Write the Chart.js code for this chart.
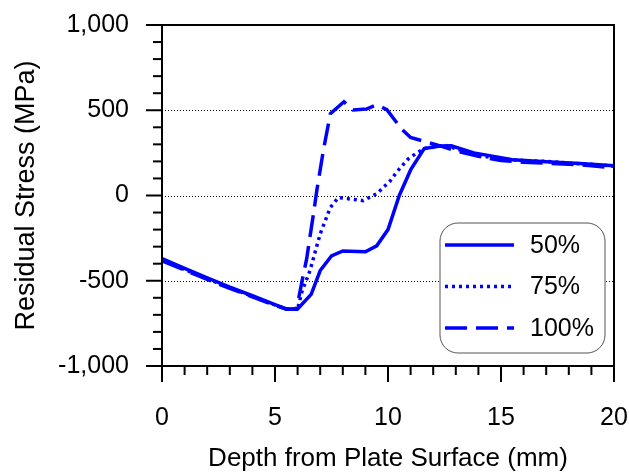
<!DOCTYPE html>
<html>
<head>
<meta charset="utf-8">
<script src="https://cdn.jsdelivr.net/npm/chart.js@4"></script>
<style>
  html, body { margin: 0; padding: 0; background: #fff; }
  #wrap { width: 629px; height: 473px; }
</style>
</head>
<body>
<div id="wrap"><canvas id="stressChart" width="629" height="473"></canvas></div>
<script>
// depth (mm) / residual stress (MPa)
const depth50 = [0, 1, 2, 3, 4, 5, 5.5, 6.0, 6.6, 7.0, 7.5, 8.0, 9.0, 9.5, 10.0, 10.5, 11.0, 11.6, 12.3, 12.8, 13.8, 15.5, 17, 18.5, 20];
const stress50 = [-370, -428, -483, -538, -588, -640, -665, -665, -580, -440, -355, -325, -330, -295, -200, 0, 150, 275, 290, 292, 250, 210, 198, 188, 175];

const depth75 = [0, 1, 2, 3, 4, 5, 5.5, 6.0, 6.2, 6.55, 7.0, 7.45, 7.8, 8.3, 8.9, 9.5, 10.1, 10.4, 10.9, 11.3, 11.6, 12.5, 13, 14, 15, 16, 17, 18, 19, 20];
const stress75 = [-378, -434, -488, -542, -592, -642, -665, -665, -560, -440, -225, -70, -12, -20, -30, 10, 86, 140, 215, 252, 275, 295, 275, 235, 215, 205, 200, 190, 183, 172];

const depth100 = [0, 1, 2, 3, 4, 5, 5.5, 5.95, 6.2, 6.4, 6.7, 6.85, 7.15, 7.45, 8.05, 8.45, 9.05, 9.5, 9.95, 10.6, 11.0, 12.2, 13, 14, 15, 16, 17, 18, 19, 20];
const stress100 = [-383, -438, -492, -545, -594, -644, -667, -667, -500, -372, -110, 30, 272, 480, 550, 502, 507, 532, 503, 390, 340, 295, 262, 230, 205, 195, 190, 183, 175, 162];

const seriesLabels = ["50%", "75%", "100%"];
const gridStress = [500, 0, -500];

const font = "'Liberation Sans', Arial, sans-serif";
const blue = "#0000ff";

function pts(xs, ys) {
  return xs.map((x, i) => ({ x: x, y: ys[i] }));
}

const frame = {
  id: "frame",
  beforeDatasetsDraw(chart) {
    const { ctx, chartArea: a, scales } = chart;
    ctx.save();
    ctx.strokeStyle = "#000";
    ctx.lineWidth = 1;
    ctx.setLineDash([1, 2]);
    gridStress.forEach((v) => {
      const py = Math.round(scales.y.getPixelForValue(v)) + 0.5;
      ctx.beginPath();
      ctx.moveTo(a.left, py);
      ctx.lineTo(a.right, py);
      ctx.stroke();
    });
    ctx.restore();
  },
  afterDraw(chart) {
    const { ctx, chartArea: a, scales } = chart;
    ctx.save();
    ctx.strokeStyle = "#000";
    ctx.lineWidth = 2;
    ctx.strokeRect(a.left, a.top, a.right - a.left, a.bottom - a.top);

    // ticks, outward; minor every 1 mm / 100 MPa
    for (let d = 0; d <= 20; d++) {
      const px = scales.x.getPixelForValue(d);
      const len = d % 5 === 0 ? 16 : 9;
      ctx.beginPath();
      ctx.moveTo(px, a.bottom);
      ctx.lineTo(px, a.bottom + len);
      ctx.stroke();
    }
    for (let s = -1000; s <= 1000; s += 100) {
      const py = scales.y.getPixelForValue(s);
      const len = s % 500 === 0 ? 16 : 9;
      ctx.beginPath();
      ctx.moveTo(a.left, py);
      ctx.lineTo(a.left - len, py);
      ctx.stroke();
    }

    // legend box
    const bx = a.right - 174, by = a.top + 198, bw = 165, bh = 130;
    ctx.lineWidth = 1;
    ctx.strokeStyle = "#555";
    ctx.fillStyle = "#fff";
    ctx.beginPath();
    ctx.roundRect(bx, by, bw, bh, 18);
    ctx.fill();
    ctx.stroke();

    chart.data.datasets.forEach((ds, i) => {
      const ly = by + 22 + i * 41.5;
      ctx.strokeStyle = ds.borderColor;
      ctx.lineWidth = ds.borderWidth;
      ctx.setLineDash(ds.borderDash || []);
      ctx.beginPath();
      ctx.moveTo(bx + 5, ly);
      ctx.lineTo(bx + 74, ly);
      ctx.stroke();
      ctx.setLineDash([]);
      ctx.fillStyle = "#000";
      ctx.font = "25px " + font;
      ctx.textBaseline = "middle";
      ctx.fillText(ds.label, bx + 90, ly + 1);
    });
    ctx.restore();
  },
};

new Chart(document.getElementById("stressChart"), {
  type: "line",
  data: {
    datasets: [
      {
        label: seriesLabels[0],
        data: pts(depth50, stress50),
        borderColor: blue,
        borderWidth: 3.5,
      },
      {
        label: seriesLabels[1],
        data: pts(depth75, stress75),
        borderColor: blue,
        borderWidth: 3.5,
        borderDash: [3, 4],
      },
      {
        label: seriesLabels[2],
        data: pts(depth100, stress100),
        borderColor: blue,
        borderWidth: 3.5,
        borderDash: [22, 9],
      },
    ],
  },
  options: {
    responsive: false,
    animation: false,
    layout: { padding: { top: 25, right: 15 } },
    elements: { point: { radius: 0 }, line: { tension: 0, fill: false } },
    plugins: { legend: { display: false }, tooltip: { enabled: false } },
    scales: {
      x: {
        type: "linear",
        min: 0,
        max: 20,
        grid: { display: false, drawTicks: false },
        border: { display: false },
        ticks: {
          stepSize: 5,
          color: "#000",
          padding: 37,
          maxRotation: 0,
          font: { family: font, size: 25 },
        },
        title: {
          display: true,
          text: "Depth from Plate Surface (mm)",
          color: "#000",
          padding: { top: 0, bottom: 1 },
          font: { family: font, size: 26, lineHeight: 1 },
        },
        afterFit: (scale) => {
          scale.height = 107;
          scale.paddingLeft = 0;
          scale.paddingRight = 0;
        },
      },
      y: {
        min: -1000,
        max: 1000,
        grid: { display: false, drawTicks: false },
        border: { display: false },
        ticks: {
          stepSize: 500,
          color: "#000",
          padding: 33,
          font: { family: font, size: 25 },
          callback: (v) => v.toLocaleString("en-US"),
        },
        title: {
          display: true,
          text: "Residual Stress (MPa)",
          color: "#000",
          padding: { top: 13, bottom: 0 },
          font: { family: font, size: 27, lineHeight: 1 },
        },
        afterFit: (scale) => {
          scale.width = 162;
          scale.paddingTop = 0;
          scale.paddingBottom = 0;
        },
      },
    },
  },
  plugins: [frame],
});
</script>
</body>
</html>
